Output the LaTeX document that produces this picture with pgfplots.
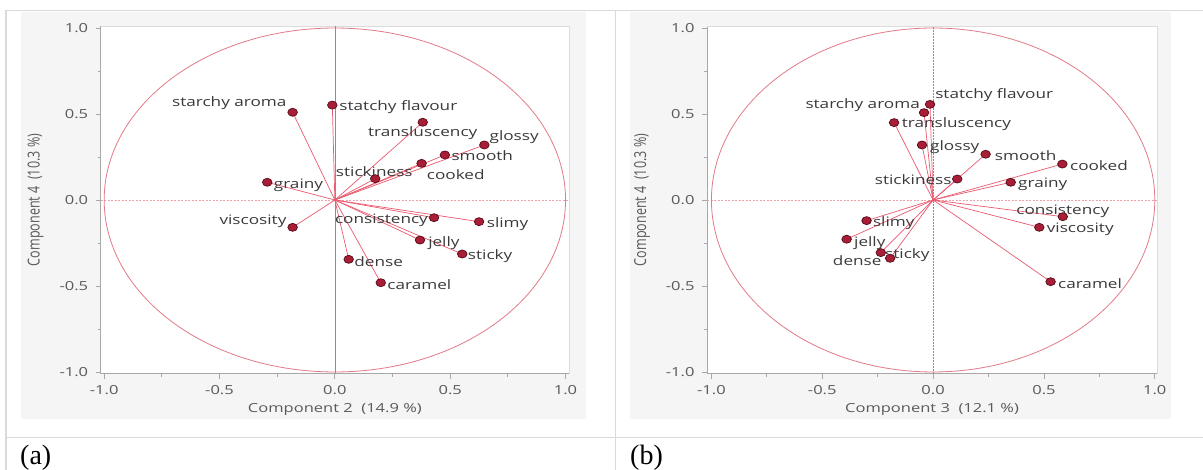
\documentclass[border=0pt]{standalone}
\usepackage{pgfplots}
\pgfplotsset{compat=1.18}
\usepackage{pgfplotstable}
\usepackage{fontspec}
\setmainfont{Liberation Serif}
\newfontfamily\labfont[FakeStretch=1.32]{Open Sans}
\newfontfamily\ylabfont[FakeStretch=0.76]{Open Sans}
\definecolor{tablegray}{HTML}{DADADA}
\definecolor{panelgray}{HTML}{F5F5F5}
\definecolor{circcol}{HTML}{E27A88}
\definecolor{veccol}{HTML}{EA5A70}
\definecolor{markfill}{HTML}{A81E36}
\definecolor{markdraw}{HTML}{560A18}
\definecolor{labcol}{HTML}{3A3A3A}
\definecolor{tickcol}{HTML}{5A5A5A}
\definecolor{spinecol}{HTML}{A8A8A8}
\definecolor{framecol}{HTML}{DCDCDC}
\definecolor{zerocol}{HTML}{F0A0AA}
\definecolor{vzerocol}{HTML}{C07585}

% loadings, panel (a): Component 2 vs Component 4
\pgfplotstableread[col sep=comma]{
x,y,label
-0.183,0.510,starchy aroma
-0.011,0.552,statchy flavour
0.381,0.452,transluscency
0.648,0.320,glossy
0.477,0.262,smooth
0.376,0.213,cooked
0.175,0.124,stickiness
-0.293,0.103,grainy
-0.183,-0.159,viscosity
0.430,-0.103,consistency
0.625,-0.126,slimy
0.369,-0.233,jelly
0.552,-0.314,sticky
0.060,-0.345,dense
0.199,-0.481,caramel
}\dataA
% label positions, panel (a)
\pgfplotstableread[col sep=comma]{
x,y,label
0.019,0.543,statchy flavour
0.670,0.368,glossy
0.505,0.256,smooth
0.398,0.145,cooked
-0.265,0.087,grainy
0.658,-0.139,slimy
0.404,-0.250,jelly
0.576,-0.326,sticky
0.084,-0.359,dense
0.227,-0.494,caramel
}\labAw
\pgfplotstableread[col sep=comma]{
x,y,label
-0.209,0.562,starchy aroma
-0.209,-0.126,viscosity
0.404,-0.116,consistency
}\labAe
\pgfplotstableread[col sep=comma]{
x,y,label
0.381,0.388,transluscency
0.171,0.165,stickiness
}\labAc

% loadings, panel (b): Component 3 vs Component 4
\pgfplotstableread[col sep=comma]{
x,y,label
-0.014,0.556,statchy flavour
-0.041,0.508,starchy aroma
-0.176,0.450,transluscency
-0.050,0.320,glossy
0.237,0.266,smooth
0.583,0.209,cooked
0.109,0.122,stickiness
0.350,0.103,grainy
0.585,-0.097,consistency
0.479,-0.159,viscosity
0.530,-0.475,caramel
-0.300,-0.120,slimy
-0.390,-0.228,jelly
-0.236,-0.306,dense
-0.194,-0.339,sticky
}\dataB
\pgfplotstableread[col sep=comma]{
x,y,label
0.009,0.610,statchy flavour
-0.142,0.441,transluscency
-0.014,0.310,glossy
0.278,0.256,smooth
0.617,0.201,cooked
0.383,0.093,grainy
0.512,-0.171,viscosity
0.563,-0.488,caramel
-0.272,-0.132,slimy
-0.357,-0.251,jelly
-0.217,-0.320,sticky
}\labBw
\pgfplotstableread[col sep=comma]{
x,y,label
-0.059,0.549,starchy aroma
0.084,0.116,stickiness
-0.232,-0.354,dense
}\labBe
\pgfplotstableread[col sep=comma]{
x,y,label
0.585,-0.068,consistency
}\labBc

\pgfplotsset{
  pca/.style={
    scale only axis, anchor=south west,
    height=347.4pt,
    ymin=-1.01, ymax=1.01,
    axis background/.style={fill=white},
    axis x line*=bottom, axis y line*=left,
    axis line style={-, draw=spinecol, line width=0.8pt},
    xtick={-1,-0.5,0,0.5,1}, ytick={-1,-0.5,0,0.5,1},
    xticklabels={-1.0,-0.5,0.0,0.5,1.0},
    yticklabels={-1.0,-0.5,0.0,0.5,1.0},
    minor tick num=1,
    tick align=outside,
    major tick length=5pt, minor tick length=3pt,
    tick style={draw=spinecol, line width=0.8pt},
    tick label style={font=\labfont\fontsize{12.5}{14}\selectfont, text=tickcol},
    xticklabel style={yshift=-3pt},
    yticklabel style={xshift=-4pt},
    every axis x label/.style={at={(axis description cs:0.5,0)}, anchor=center, yshift=-35.5pt,
      font=\labfont\fontsize{12.5}{14}\selectfont, text=tickcol},
    every axis y label/.style={at={(axis description cs:0,0.5)}, anchor=center, rotate=90, yshift=65pt,
      font=\ylabfont\fontsize{16.5}{18}\selectfont, text=tickcol},
    clip=false,
  },
  labs/.style={only marks, mark size=0pt,
    point meta=explicit symbolic,
    nodes near coords,
    every node near coord/.style={anchor=#1, inner sep=0pt,
      font=\labfont\fontsize{13}{15}\selectfont, text=labcol}},
  vecs/.style={veccol, line width=0.7pt, -, quiver={u=\thisrow{x}, v=\thisrow{y}}},
  dots/.style={only marks, mark=*, mark size=4pt,
    mark options={xscale=1.2, fill=markfill, draw=markdraw, line width=0.7pt}},
}

\begin{document}
\begin{tikzpicture}
\useasboundingbox (0,0) rectangle (1203pt,470pt);
\fill[white] (0,0) rectangle (1203pt,470pt);
% panels
\fill[panelgray] (21pt,51pt) rectangle (586pt,458pt);
\fill[panelgray] (630pt,51pt) rectangle (1171pt,458pt);
% table rules
\draw[tablegray, line width=1.5pt] (6pt,459.5pt) -- (1203pt,459.5pt);
\draw[tablegray, line width=1.5pt] (6pt,459.5pt) -- (6pt,0pt);
\draw[tablegray, line width=1.5pt] (615.5pt,459.5pt) -- (615.5pt,0pt);
\draw[tablegray, line width=1.5pt] (6pt,32.5pt) -- (1203pt,32.5pt);
\node[anchor=base west, inner sep=0pt, font=\fontsize{28}{30}\selectfont] at (20pt,5pt) {(a)};
\node[anchor=base west, inner sep=0pt, font=\fontsize{28}{30}\selectfont] at (630pt,5pt) {(b)};

% panel (a)
\begin{axis}[pca, at={(100.7pt,96.3pt)}, width=468.3pt, xmin=-1.015, xmax=1.015,
  xlabel={Component 2~~(14.9~\%)}, ylabel={Component 4~~(10.3~\%)}]
\draw[framecol, line width=0.8pt] (rel axis cs:0,1) -- (rel axis cs:1,1) -- (rel axis cs:1,0);
\draw[zerocol, line width=0.8pt, dash pattern=on 2pt off 1.5pt] (axis cs:-1.015,0) -- (axis cs:1.015,0);
\draw[vzerocol, line width=0.5pt] (axis cs:0,-1.01) -- (axis cs:0,1.01);
\draw[circcol, line width=0.8pt] (axis cs:0,0) ellipse [x radius=1, y radius=1];
\addplot[labs=west] table[x=x, y=y, meta=label] {\labAw};
\addplot[labs=east] table[x=x, y=y, meta=label] {\labAe};
\addplot[labs=center] table[x=x, y=y, meta=label] {\labAc};
\addplot[vecs] table[x expr=0, y expr=0] {\dataA};
\addplot[dots] table[x=x, y=y] {\dataA};
\end{axis}

% panel (b)
\begin{axis}[pca, at={(707pt,96.3pt)}, width=450pt, xmin=-1.02, xmax=1.01,
  xlabel={Component 3~~(12.1~\%)}, ylabel={Component 4~~(10.3~\%)}]
\draw[framecol, line width=0.8pt] (rel axis cs:0,1) -- (rel axis cs:1,1) -- (rel axis cs:1,0);
\draw[zerocol, line width=0.8pt, dash pattern=on 2pt off 1.5pt] (axis cs:-1.02,0) -- (axis cs:1.01,0);
\draw[vzerocol, line width=0.5pt, dash pattern=on 1.5pt off 1.5pt] (axis cs:0,-1.01) -- (axis cs:0,1.01);
\draw[circcol, line width=0.8pt] (axis cs:0,0) ellipse [x radius=1, y radius=1];
\addplot[labs=west] table[x=x, y=y, meta=label] {\labBw};
\addplot[labs=east] table[x=x, y=y, meta=label] {\labBe};
\addplot[labs=center] table[x=x, y=y, meta=label] {\labBc};
\addplot[vecs] table[x expr=0, y expr=0] {\dataB};
\addplot[dots] table[x=x, y=y] {\dataB};
\end{axis}
\end{tikzpicture}
\end{document}
